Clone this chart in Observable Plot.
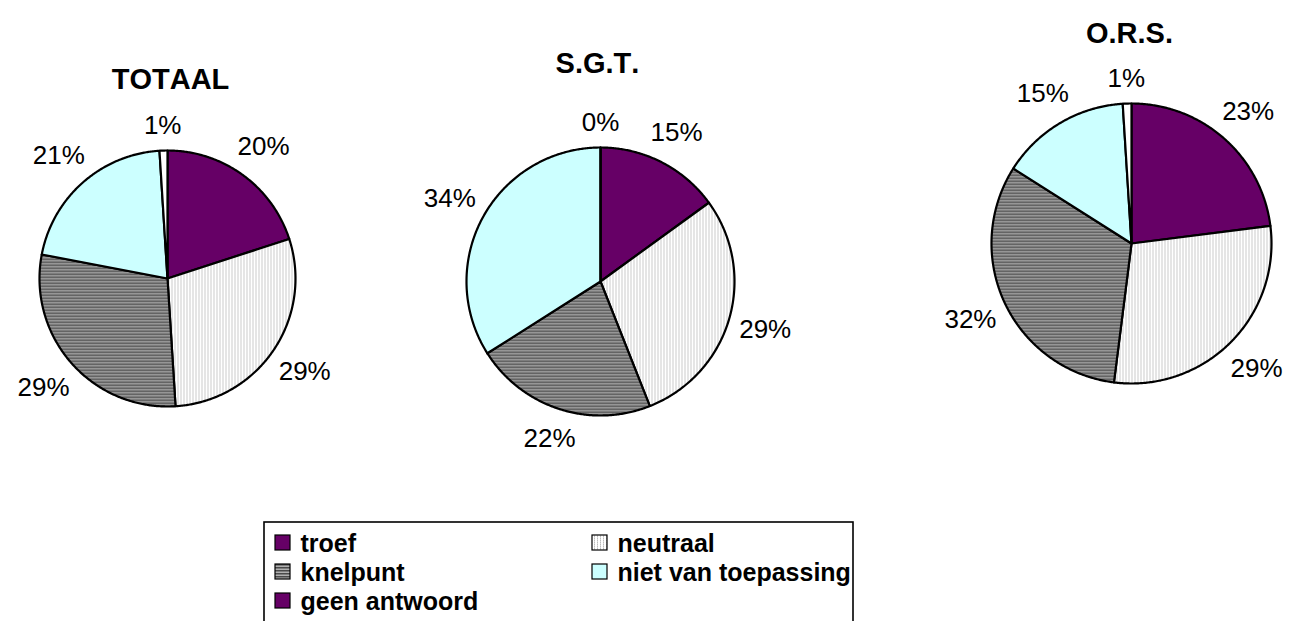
<!DOCTYPE html>
<html><head><meta charset="utf-8">
<script src="https://cdn.jsdelivr.net/npm/d3@7"></script>
<script src="https://cdn.jsdelivr.net/npm/@observablehq/plot@0.6"></script>
<style>html,body{margin:0;padding:0;background:#fff;overflow:hidden;} svg{display:block} svg text{font-kerning:none}</style>
</head><body><div id="chart"></div>
<script>
// ---- data ----
const categories = ["troef", "neutraal", "knelpunt", "niet van toepassing", "geen antwoord"];
const totaalValues = [20, 29, 29, 21, 1];
const sgtValues = [15, 29, 22, 34, 0];
const orsValues = [23, 29, 32, 15, 1];
const pieTitles = ["TOTAAL", "S.G.T.", "O.R.S."];
const legendOrder = ["troef", "neutraal", "knelpunt", "niet van toepassing", "geen antwoord"];

// ---- styles / layout ----
const W = 1293, H = 621;
const FONT = "'Liberation Sans', Arial, Helvetica, sans-serif";
const LABEL_SIZE = 26;
const sliceFills = ["#660066", "url(#pat-neutraal)", "url(#pat-knelpunt)", "#CCFFFF", "#FFFFFF"];
const legendFills = ["#660066", "url(#pat-neutraal)", "url(#pat-knelpunt)", "#CCFFFF", "#660066"];
const pieLayout = [
  {cx: 167, cy: 278, r: 128, tx: 170, ty: 79},
  {cx: 600, cy: 281, r: 134, tx: 597, ty: 63},
  {cx: 1131, cy: 243, r: 140, tx: 1129, ty: 33}
];
const pieValues = [totaalValues, sgtValues, orsValues];

const marks = [];
const labelRows = [];
const titleRows = [];

pieValues.forEach((values, pi) => {
  const {cx, cy, r, tx, ty} = pieLayout[pi];
  const total = d3.sum(values);
  let acc = 0;
  values.forEach((v, i) => {
    const a0 = acc / total * 2 * Math.PI;
    acc += v;
    const a1 = acc / total * 2 * Math.PI;
    const n = Math.max(2, Math.ceil((a1 - a0) / (Math.PI / 360)));
    const pts = [[cx, cy]];
    for (let k = 0; k <= n; k++) {
      const a = a0 + (a1 - a0) * k / n;
      pts.push([cx + r * Math.sin(a), cy - r * Math.cos(a)]);
    }
    marks.push(Plot.line(pts, {
      x: d => d[0], y: d => d[1], curve: "linear-closed",
      fill: sliceFills[i], stroke: "black", strokeWidth: 2.2, strokeLinejoin: "round"
    }));
    const am = (a0 + a1) / 2;
    const text = v + "%";
    const hw = (text.length - 1) * 0.556 * LABEL_SIZE / 2 + 0.889 * LABEL_SIZE / 2;
    const hh = 0.45 * LABEL_SIZE;
    const s = Math.sin(am), c = Math.cos(am);
    const dist = r + 13 + 0.85 * Math.abs(s) * hw + Math.abs(c) * hh;
    labelRows.push({x: cx + dist * s, y: cy - dist * c, text});
  });
  titleRows.push({x: tx, y: ty, text: pieTitles[pi]});
});

marks.push(Plot.text(labelRows, {x: "x", y: "y", text: "text", fontSize: LABEL_SIZE, fontFamily: FONT, fill: "black"}));
marks.push(Plot.text(titleRows, {x: "x", y: "y", text: "text", fontSize: 29, fontWeight: "bold", fontFamily: FONT, fill: "black"}));

// ---- legend ----
const legendRows = legendOrder.map((name, i) => {
  const col = i % 2, row = Math.floor(i / 2);
  const sx = [275, 592][col], sy = [535, 564, 593][row];
  return {name, sx, sy, tx: [300, 617][col], fill: legendFills[categories.indexOf(name)]};
});
marks.push(Plot.rect([0], {x1: () => 264, x2: () => 853, y1: () => 522, y2: () => 625, fill: "white", stroke: "black", strokeWidth: 1.6}));
legendRows.forEach(d => {
  marks.push(Plot.rect([d], {x1: "sx", x2: e => e.sx + 15, y1: "sy", y2: e => e.sy + 15, fill: d.fill, stroke: "black", strokeWidth: 1.2}));
});
marks.push(Plot.text(legendRows, {x: "tx", y: e => e.sy + 8, text: "name", textAnchor: "start", fontSize: 25, fontWeight: "bold", fontFamily: FONT, fill: "black"}));

const svg = Plot.plot({
  width: W, height: H,
  margin: 0, marginTop: 0, marginRight: 0, marginBottom: 0, marginLeft: 0,
  x: {domain: [0, W], range: [0, W], axis: null},
  y: {domain: [0, H], range: [0, H], axis: null},
  style: {background: "white", fontFamily: FONT, overflow: "hidden"},
  marks
});

const defs = d3.select(svg).insert("defs", ":first-child");
const pn = defs.append("pattern").attr("id", "pat-neutraal").attr("patternUnits", "userSpaceOnUse").attr("width", 3).attr("height", 2);
pn.append("rect").attr("width", 3).attr("height", 2).attr("fill", "#ffffff");
pn.append("rect").attr("x", 0).attr("y", 0).attr("width", 1).attr("height", 1).attr("fill", "#bdbdbd");
pn.append("rect").attr("x", 0).attr("y", 1).attr("width", 1).attr("height", 1).attr("fill", "#dadada");
const pk = defs.append("pattern").attr("id", "pat-knelpunt").attr("patternUnits", "userSpaceOnUse").attr("width", 4).attr("height", 3);
pk.append("rect").attr("width", 4).attr("height", 3).attr("fill", "#b0b0b0");
pk.append("rect").attr("x", 0).attr("y", 0).attr("width", 4).attr("height", 1.5).attr("fill", "#4a4a4a");

document.getElementById("chart").appendChild(svg);
</script>
</body></html>
